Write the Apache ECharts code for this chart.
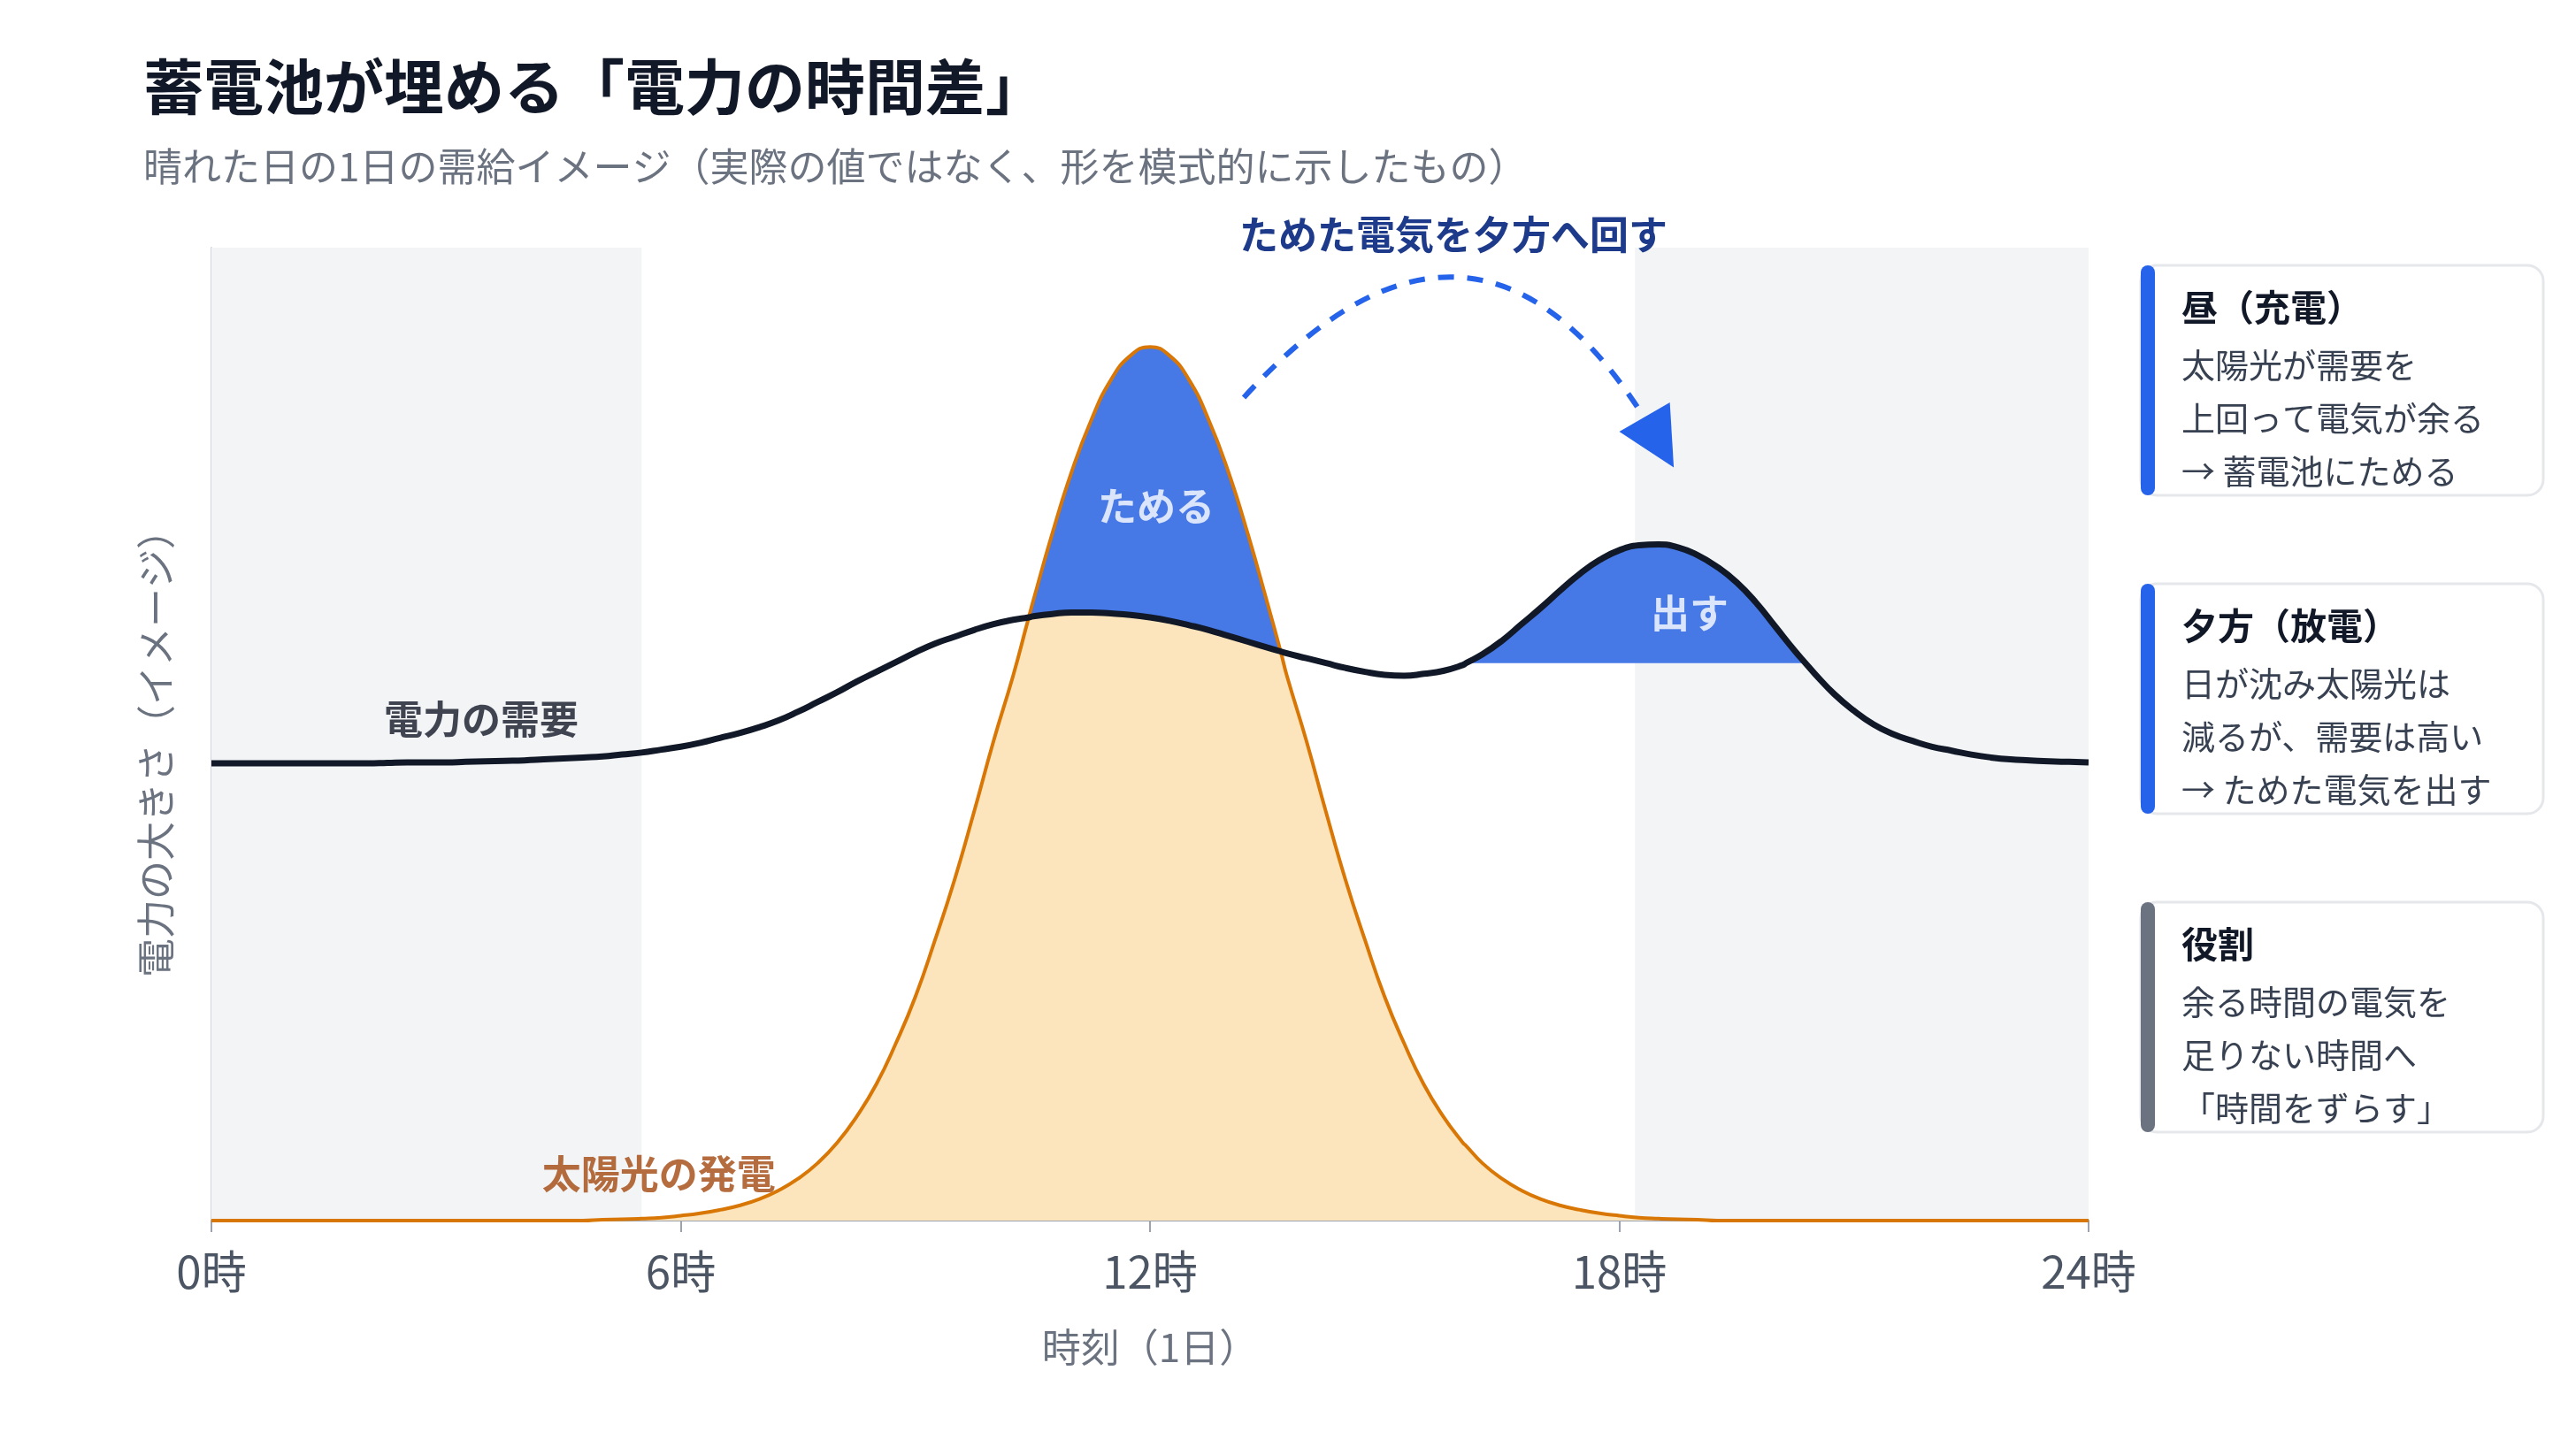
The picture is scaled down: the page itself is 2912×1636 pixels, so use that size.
<!DOCTYPE html>
<html>
<head>
<meta charset="utf-8">
<style>
html,body{margin:0;padding:0;background:#ffffff;}
#chart{width:2912px;height:1636px;}
</style>
<script src="https://cdn.jsdelivr.net/npm/echarts@6/dist/echarts.min.js"></script>
</head>
<body>
<div id="chart"></div>
<script>
// ---------- data ----------
const hours = [0,0.25,0.5,0.75,1,1.25,1.5,1.75,2,2.25,2.5,2.75,3,3.25,3.5,3.75,4,4.25,4.5,4.75,5,5.25,5.5,5.75,6,6.25,6.5,6.75,7,7.25,7.5,7.75,8,8.25,8.5,8.75,9,9.25,9.5,9.75,10,10.25,10.45,10.5,10.75,11,11.25,11.5,11.75,12,12.25,12.5,12.75,13,13.25,13.5,13.67,13.75,14,14.25,14.5,14.75,15,15.25,15.5,15.75,16,16.04,16.25,16.5,16.75,17,17.25,17.5,17.75,18,18.25,18.5,18.75,19,19.25,19.5,19.75,20,20.25,20.38,20.5,20.75,21,21.25,21.5,21.75,22,22.25,22.5,22.75,23,23.25,23.5,23.75,24];
const demand = [47.0,47.0,47.0,47.0,47.0,47.0,47.0,47.0,47.0,47.05,47.1,47.1,47.1,47.15,47.2,47.25,47.3,47.4,47.5,47.6,47.7,47.9,48.1,48.4,48.7,49.1,49.6,50.1,50.7,51.4,52.3,53.3,54.3,55.4,56.4,57.4,58.4,59.3,60.0,60.7,61.3,61.75,62.0,62.1,62.35,62.5,62.5,62.4,62.25,62.0,61.65,61.2,60.7,60.1,59.5,58.9,58.5,58.3,57.8,57.3,56.8,56.4,56.1,56.0,56.2,56.5,57.1,57.3,58.2,59.6,61.3,63.0,64.8,66.5,67.9,68.9,69.4,69.5,69.2,68.4,67.2,65.6,63.5,61.0,58.5,57.3,56.2,54.1,52.4,51.0,50.0,49.3,48.7,48.3,47.9,47.6,47.4,47.3,47.2,47.15,47.1];
const solar = [0,0,0,0,0,0,0,0,0,0,0,0,0,0,0,0,0,0,0,0,0.1,0.13,0.2,0.3,0.5,0.75,1.1,1.55,2.2,3.1,4.3,5.9,8.0,10.7,14.0,18.2,23.0,28.8,35.0,42.0,49.3,56.0,62.0,63.5,70.6,77.0,82.3,86.4,88.9,89.8,88.9,86.4,82.3,77.0,70.6,63.5,58.5,56.0,49.3,42.0,35.0,28.8,23.0,18.2,14.0,10.7,8.0,7.7,5.9,4.3,3.1,2.2,1.55,1.1,0.75,0.5,0.3,0.2,0.13,0.1,0,0,0,0,0,0,0,0,0,0,0,0,0,0,0,0,0,0,0,0,0];
const xTickLabels = ['0時','6時','12時','18時','24時'];
const nightBands = [[0,5.5],[18.2,24]];
const dischargeLevel = 57.3;
const dischargeWindow = [16.04, 20.38];

const titleText = '蓄電池が埋める「電力の時間差」';
const subtitleText = '晴れた日の1日の需給イメージ（実際の値ではなく、形を模式的に示したもの）';
const arrowCaption = 'ためた電気を夕方へ回す';
const cardTitles = ['昼（充電）','夕方（放電）','役割'];
const cardLines = [
  ['太陽光が需要を','上回って電気が余る','→ 蓄電池にためる'],
  ['日が沈み太陽光は','減るが、需要は高い','→ ためた電気を出す'],
  ['余る時間の電気を','足りない時間へ','「時間をずらす」']
];

// ---------- styling / layout ----------
const FONT = '"Noto Sans CJK JP","Noto Sans",sans-serif';
const BLUE_FILL = '#4679e6';
const SOLAR_FILL = '#fce5bc';
const cardColors = ['#2563eb','#2563eb','#6b7280'];
const cardTops = [300,660,1020];
const CARD_X = 2420, CARD_W = 455, CARD_H = 260;

const annotations = [
  {text:'電力の需要', at:[3.45,51.5], color:'#111827'},
  {text:'太陽光の発電', at:[5.72,4.8], color:'#a3480f'},
  {text:'ためる', at:[12.08,73.4], color:'#ffffff'},
  {text:'出す', at:[18.9,62.4], color:'#ffffff'}
];
const arrowFrom = [13.2,84.6], arrowTo = [18.51,80.0];

// ---------- derived series ----------
const pairs = ys => hours.map((h,i) => [h, ys[i]]);
const lowerOfBoth = hours.map((h,i) => [h, Math.min(solar[i], demand[i])]);
const discharge = [];
hours.forEach((h,i) => { if (h >= dischargeWindow[0] && h <= dischargeWindow[1]) discharge.push([h, demand[i]]); });

const chart = echarts.init(document.getElementById('chart'));

const graphics = [{
  type:'text', z:100,
  style:{text:arrowCaption, x:1643, y:265, fill:'#1e3a8a', font:'bold 44px ' + FONT,
         align:'center', verticalAlign:'middle', textAlign:'center', textVerticalAlign:'middle'}
}];
cardTitles.forEach((t,k) => {
  const top = cardTops[k];
  graphics.push({type:'rect', z:100, shape:{x:CARD_X, y:top, width:CARD_W, height:CARD_H, r:18},
    style:{fill:'#ffffff', stroke:'#e5e7eb', lineWidth:3}});
  graphics.push({type:'rect', z:101, shape:{x:CARD_X, y:top, width:16, height:CARD_H, r:8},
    style:{fill:cardColors[k]}});
  graphics.push({type:'text', z:102, style:{text:t, x:2466, y:top+47, fill:'#111827',
    font:'bold 41px ' + FONT, align:'left', verticalAlign:'middle', textAlign:'left', textVerticalAlign:'middle'}});
  cardLines[k].forEach((line,j) => {
    graphics.push({type:'text', z:102, style:{text:line, x:2466, y:top+113+j*60, fill:'#374151',
      font:'38px ' + FONT, align:'left', verticalAlign:'middle', textAlign:'left', textVerticalAlign:'middle'}});
  });
});

const option = {
  animation:false,
  backgroundColor:'#ffffff',
  textStyle:{fontFamily:FONT},
  title:[
    {text:titleText, left:162, top:64, padding:0,
     textStyle:{fontSize:68, fontWeight:'bold', color:'#111827', fontFamily:FONT, lineHeight:68}},
    {text:subtitleText, left:162, top:166, padding:0,
     textStyle:{fontSize:44, fontWeight:'normal', color:'#6b7280', fontFamily:FONT, lineHeight:44}}
  ],
  grid:{left:239, right:551, top:280, bottom:256, containLabel:false},
  xAxis:{
    type:'value', min:0, max:24, interval:6,
    axisLine:{show:true, lineStyle:{color:'#9ca3af', width:2}},
    axisTick:{show:true, length:13, lineStyle:{color:'#9ca3af', width:2}},
    axisLabel:{fontSize:51, color:'#4b5563', margin:32, fontFamily:FONT,
      formatter:v => xTickLabels[Math.round(v/6)]},
    splitLine:{show:false},
    name:'時刻（1日）', nameLocation:'middle', nameGap:121,
    nameTextStyle:{fontSize:44, color:'#6b7280', fontFamily:FONT}
  },
  yAxis:{
    type:'value', min:0, max:100,
    axisLine:{show:true, lineStyle:{color:'#d1d5db', width:2}},
    axisTick:{show:false}, axisLabel:{show:false}, splitLine:{show:false},
    name:'電力の大きさ（イメージ）', nameLocation:'middle', nameGap:41,
    nameTextStyle:{fontSize:44, color:'#6b7280', fontFamily:FONT, padding:[0,22,0,0]}
  },
  series:[
    {type:'line', name:'ためる', data:pairs(solar), smooth:true, symbol:'none', silent:true, z:2,
     lineStyle:{opacity:0}, areaStyle:{color:BLUE_FILL, opacity:1},
     markArea:{silent:true, itemStyle:{color:'#f3f4f6'},
       data:nightBands.map(b => [{xAxis:b[0]},{xAxis:b[1]}])}},
    {type:'line', name:'太陽光（面）', data:lowerOfBoth, smooth:true, symbol:'none', silent:true, z:3,
     lineStyle:{opacity:0}, areaStyle:{color:SOLAR_FILL, opacity:1}},
    {type:'line', name:'出す', data:discharge, smooth:true, symbol:'none', silent:true, z:3,
     lineStyle:{opacity:0}, areaStyle:{color:BLUE_FILL, opacity:1, origin:dischargeLevel}},
    {type:'line', name:'太陽光の発電', data:pairs(solar), smooth:true, symbol:'none', silent:true, z:4,
     lineStyle:{color:'#d97706', width:4}},
    {type:'line', name:'電力の需要', data:pairs(demand), smooth:true, symbol:'none', silent:true, z:5,
     lineStyle:{color:'#111827', width:7}},
    {type:'lines', name:'ためた電気を夕方へ回す', coordinateSystem:'cartesian2d', silent:true, z:6,
     symbol:['none','triangle'], symbolSize:66,
     lineStyle:{color:'#2563eb', width:6, type:[18,15], curveness:0.684, opacity:1},
     data:[{coords:[arrowFrom, arrowTo]}]},
    {type:'scatter', name:'labels', symbolSize:0, silent:true, z:10,
     data:annotations.map(a => ({value:a.at,
       label:{show:true, position:'inside', formatter:a.text, color:a.color,
              fontSize:44, fontWeight:'bold', fontFamily:FONT}}))}
  ],
  graphic:graphics
};
chart.setOption(option);
</script>
</body>
</html>
